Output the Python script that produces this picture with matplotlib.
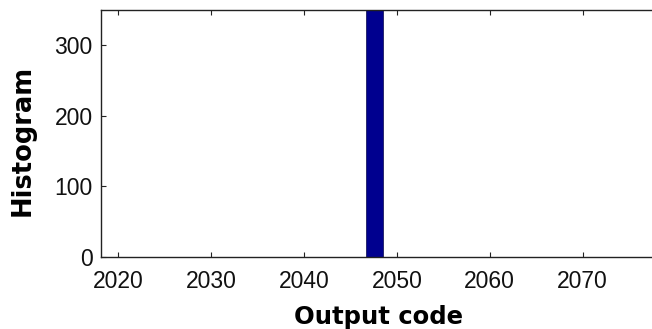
import matplotlib
matplotlib.use("Agg")
import matplotlib.pyplot as plt

# histogram of ADC output codes (single occupied bin)
bin_centers = [2047.6]
bin_counts = [4096]
bin_width = 1.86

x_ticks = [2020, 2030, 2040, 2050, 2060, 2070]
y_ticks = [0, 100, 200, 300]

fig = plt.figure(figsize=(6.52, 3.29), dpi=100, facecolor="white")
ax = fig.add_axes([101 / 652, 72 / 329, 556 / 652, 247 / 329])

ax.bar(bin_centers, bin_counts, width=bin_width, color="#00008f",
       edgecolor="#1a1a60", linewidth=0.6)

ax.set_xlim(2018.15, 2078)
ax.set_ylim(0, 350)
ax.set_xticks(x_ticks)
ax.set_yticks(y_ticks)

for s in ax.spines.values():
    s.set_linewidth(1.0)
    s.set_color("#222222")

ax.tick_params(direction="in", length=3.6, width=0.8, top=True, right=True,
               colors="#222222", labelcolor="#111111", labelsize=16.5)
ax.tick_params(axis="x", pad=9)
ax.tick_params(axis="y", pad=6)
for lab in ax.get_xticklabels() + ax.get_yticklabels():
    lab.set_family("Liberation Sans")

ax.set_xlabel("Output code", fontsize=17.5, fontweight="bold",
              family="DejaVu Sans", labelpad=9)
ax.set_ylabel("Histogram", fontsize=18.5, fontweight="bold",
              family="DejaVu Sans", labelpad=11)
ax.yaxis.set_label_coords(-0.118, 0.47)

fig.savefig("out.png", dpi=100)
